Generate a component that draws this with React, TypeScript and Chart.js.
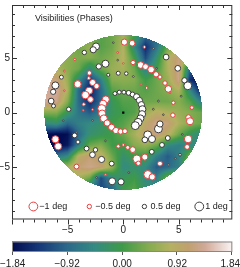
import React, { useEffect, useRef } from "react";
import { Chart, registerables } from "chart.js";

Chart.register(...registerables);

const TITLE = "Visibilities (Phases)";
const X_MIN = -10;
const X_MAX = 9.8;
const Y_MIN = -9.8;
const Y_MAX = 9.85;
const AXIS_TICKS = [-5, 0, 5];
const AXIS_TICK_LABELS = ["\u22125", "0", "5"];
const DISC_RADIUS = 7.1;

// uv points (units) and phase residuals (deg)
const U_POINTS = [
  0.1, 0.8, -0.9, -2.45, -2.7, -3.5, 1.9, 2.7, 3.85, -4.35,
  -1.6, -2.2, 0.0, 0.88, 1.56, 2.0, 2.5, 2.95, 3.3, 3.75,
  4.05, 4.9, 5.8, 5.5, 0.27, -0.45, -1.35, 0.9, 2.1, -3.05,
  -3.1, -4.1, -2.75, -2.4, -3.07, -6.1, -6.3, -6.48, -6.27, -3.4,
  -2.95, -3.55, -4.9, -5.56, -5.3, 4.5, 5.2, 6.17, 5.86, 6.0,
  4.46, 3.16, 2.7, -2.76,
  -1.57, -1.81, -1.93, -1.9, -1.75, -1.45, -1.05, -0.66, -0.24, 0.15,
  -0.75, -0.36, 0.06, 0.48, 0.84,
  1.2, 1.45, 1.63, 1.72, 1.69, 1.54, 1.33, 1.08,
  -6.1, -5.85, -5.4, -4.37, -4.07, -3.3, -2.5, -2.77, -1.95, -1.04,
  -4.2, -1.0, -0.2, -2.4, -0.45, 0.0, 0.4, 0.85, 1.22, 1.94,
  1.35, 3.3, 2.2, 2.6, 2.56, 2.2, 2.58, 1.94, 3.16, 3.3,
  4.0, 3.48, 5.83, 5.74, 5.1, 4.67, 4.07,
  -0.5, 3.0, -2.76, 4.2, -4.2, 3.6, -3.6, -1.6, 1.6, 5.3, -5.3, -1.6, 0.5, -0.5,
];
const V_POINTS = [
  6.45, 6.35, 6.4, 6.05, 5.75, 5.5, 6.0, 5.85, 5.08, 4.86,
  4.47, 4.22, 4.5, 4.58, 4.35, 4.2, 3.93, 3.5, 3.25, 2.7,
  2.16, 4.05, 2.45, 2.95, 3.57, 3.6, 3.45, 3.3, 2.25, 3.62,
  3.15, 2.6, 2.75, 2.42, 2.0, 2.48, 1.9, 1.05, 0.6, 1.6,
  1.2, 0.75, 0.3, 3.24, 3.8, 0.9, 1.5, 0.45, -0.45, -0.8,
  -0.24, 1.05, 0.3, 0.27,
  1.2, 0.81, 0.36, -0.09, -0.54, -0.96, -1.35, -1.65, -1.74, -1.71,
  1.74, 1.86, 1.86, 1.8, 1.65,
  1.44, 1.11, 0.72, 0.3, -0.15, -0.54, -0.9, -1.2,
  -2.45, -3.1, -0.75, -2.1, -2.7, -3.3, -3.42, -3.87, -4.3, -4.68,
  -4.95, -6.3, -6.35, -5.95, -3.1, -2.97, -3.2, -3.4, -4.25, -4.08,
  -4.65, -4.68, -5.68, -5.9, -3.6, -2.05, -2.43, -2.5, -1.5, -1.05,
  -2.34, -2.97, -2.43, -3.15, -3.87, -4.2, -4.8,
  4.8, 4.05, -0.72, 1.8, -1.8, -0.2, 0.2, -2.6, 2.6, -2.0, 2.0, -5.7, -5.5, 5.5,
];
const PHASE_RESID = [
  -0.7, -0.65, 0.15, 0.8, 0.7, 0.5, -0.3, 0.2, 0.65, -0.25,
  0.8, 0.6, -0.15, -0.5, -0.75, -0.65, -0.75, -0.6, -0.45, -0.5,
  -0.75, 0.65, 0.9, 0.6, 0.4, 0.45, 0.35, 0.2, -0.3, -0.5,
  -0.35, -0.8, -0.7, -0.6, -0.8, 0.8, 0.6, 0.65, 0.45, -0.85,
  -0.65, -0.35, 0.5, 0.45, -0.2, -0.4, 0.2, -0.4, -0.6, -0.8,
  -0.5, 0.2, 0.2, -0.2,
  -0.8, -0.8, -0.9, -0.8, -0.8, -0.7, -0.7, -0.7, -0.6, -0.55,
  0.45, 0.45, 0.45, 0.55, 0.55,
  0.7, 0.7, 0.7, 0.8, 0.8, 0.8, 0.9, 0.9,
  -0.8, -0.8, 0.15, 0.55, 0.45, 0.55, 0.5, 0.65, 0.7, 0.55,
  -0.55, 0.8, 0.7, 0.15, -0.4, -0.3, -0.45, -0.65, -0.9, -0.7,
  -0.5, -0.55, -0.9, -0.7, 0.55, 0.9, 0.8, 0.65, 0.9, 0.7,
  0.55, 0.55, -0.85, -0.55, 0.3, 0.2, 0.2,
  0.15, 0.15, 0.15, -0.15, 0.15, 0.15, -0.15, 0.15, -0.15, 0.15, -0.15, -0.2, 0.15, -0.15,
];

const CENTER_U = [0];
const CENTER_V = [0];

// Model phase field sampled on a 1-unit grid (rows: v = 7 .. -7, cols: u = -7 .. 7)
const FIELD_U = [-7, -6, -5, -4, -3, -2, -1, 0, 1, 2, 3, 4, 5, 6, 7];
const FIELD_V = [7, 6, 5, 4, 3, 2, 1, 0, -1, -2, -3, -4, -5, -6, -7];
const FIELD = [
  [0.6, 0.6, 0.6, 0.45, 0.3, 0.15, 0.3, 0.7, 0.0, -0.9, -0.9, -0.45, 0.0, 0.0, 0.0],
  [0.6, 0.6, 0.45, 0.3, 0.6, 0.15, 0.3, 0.8, -0.45, -1.5, -0.75, 0.3, 0.6, 0.6, 0.6],
  [0.6, 0.6, 0.5, 0.4, 0.45, 0.3, 0.45, 0.85, 0.0, -1.2, -0.3, 0.8, 1.2, 0.6, 0.0],
  [0.9, 0.75, 0.5, 0.3, -0.45, 0.3, 0.6, 0.7, 0.3, -0.6, 0.0, 0.75, 1.3, -0.9, -1.5],
  [1.3, 1.2, 0.6, -0.45, -1.35, -0.6, 0.45, 0.5, 0.45, 0.0, 0.3, 0.6, 1.3, -1.5, -1.9],
  [1.4, 1.4, 0.75, -0.9, -1.6, -0.9, 0.15, 0.3, 0.3, 0.15, 0.3, 0.45, 0.75, -0.45, -1.6],
  [1.4, 1.3, 0.45, -0.9, -1.5, -0.9, -0.15, 0.15, 0.15, 0.3, 0.3, 0.3, 0.45, 0.15, -0.6],
  [0.45, 0.45, -0.15, -0.75, -1.05, -0.6, -0.15, 0.0, 0.15, 0.6, 0.9, 0.75, 0.6, 0.45, 0.3],
  [-0.45, -0.3, -0.9, -0.6, -0.45, -0.3, 0.0, 0.15, 0.45, 1.0, 1.3, 1.2, 0.75, 0.45, 0.3],
  [-1.8, -1.9, -1.8, -0.9, -0.3, -0.15, 0.0, 0.3, 0.7, 1.1, 1.2, 0.9, 0.3, -0.15, -0.45],
  [-1.9, -1.9, -1.7, -0.6, 0.3, 0.45, 0.0, 0.0, 0.45, 0.6, 0.3, -0.45, -0.6, -0.45, -0.45],
  [-0.75, -0.75, -0.45, 0.9, 1.15, 0.95, 0.3, -0.3, 0.0, 0.0, -0.6, -1.05, -0.6, 0.45, 0.45],
  [0.7, 0.7, 0.7, 1.15, 1.3, 1.15, 0.55, -0.45, -0.3, -0.45, -1.05, -0.9, -0.6, 0.9, 0.9],
  [0.3, 0.3, 0.3, 0.7, 0.3, -1.2, -0.45, -0.15, 0.0, -0.45, -0.6, 0.45, 0.75, 0.75, 0.75],
  [0.0, 0.0, 0.0, 0.0, -0.75, -1.2, -0.9, 0.0, 0.15, -0.3, -0.45, 0.3, 0.6, 0.6, 0.6],
];

const CBAR_MIN = -1.84;
const CBAR_MAX = 1.84;
const CBAR_TICKS = [-1.84, -0.92, 0, 0.92, 1.84];
const CBAR_LABELS = ["\u22121.84", "\u22120.92", "0.00", "0.92", "1.84"];

const LEGEND_VALUES = [-1, -0.5, 0.5, 1];
const LEGEND_LABELS = ["\u22121 deg", "\u22120.5 deg", "0.5 deg", "1 deg"];

const CMAP_STOPS: [number, number[]][] = [
  [0.0, [2, 12, 80]],
  [0.125, [22, 56, 120]],
  [0.25, [44, 104, 138]],
  [0.375, [52, 138, 130]],
  [0.5, [62, 154, 72]],
  [0.625, [135, 172, 80]],
  [0.72, [180, 177, 98]],
  [0.8, [192, 160, 110]],
  [0.875, [208, 168, 150]],
  [1.0, [250, 244, 244]],
];

const RED = "rgb(232,64,64)";
const DARK = "rgb(60,60,60)";
const FONT = "'Liberation Sans', Arial, Helvetica, sans-serif";

function cmap(t: number): number[] {
  const tt = Math.max(0, Math.min(1, t));
  for (let i = 1; i < CMAP_STOPS.length; i++) {
    const [t1, c1] = CMAP_STOPS[i];
    const [t0, c0] = CMAP_STOPS[i - 1];
    if (tt <= t1) {
      const f = (tt - t0) / (t1 - t0);
      return [0, 1, 2].map((k) => Math.round(c0[k] + (c1[k] - c0[k]) * f));
    }
  }
  return CMAP_STOPS[CMAP_STOPS.length - 1][1];
}

function valueColor(v: number): number[] {
  return cmap((v - CBAR_MIN) / (CBAR_MAX - CBAR_MIN));
}

function sampleField(u: number, v: number): number {
  const nu = FIELD_U.length;
  const nv = FIELD_V.length;
  let fi = (u - FIELD_U[0]) / (FIELD_U[1] - FIELD_U[0]);
  let fj = (v - FIELD_V[0]) / (FIELD_V[1] - FIELD_V[0]);
  fi = Math.max(0, Math.min(nu - 1, fi));
  fj = Math.max(0, Math.min(nv - 1, fj));
  const i0 = Math.floor(fi);
  const j0 = Math.floor(fj);
  const i1 = Math.min(nu - 1, i0 + 1);
  const j1 = Math.min(nv - 1, j0 + 1);
  const tx = fi - i0;
  const ty = fj - j0;
  const a = FIELD[j0][i0] * (1 - tx) + FIELD[j0][i1] * tx;
  const b = FIELD[j1][i0] * (1 - tx) + FIELD[j1][i1] * tx;
  return a * (1 - ty) + b * ty;
}

function markerRadius(p: number): number {
  return Math.max(0.8, 4.4 * Math.abs(p));
}

const fieldPlugin = {
  id: "phaseField",
  beforeDatasetsDraw(chart: any) {
    const { ctx, scales } = chart;
    const xs = scales.x;
    const ys = scales.y;
    const left = Math.floor(xs.getPixelForValue(-DISC_RADIUS)) - 1;
    const right = Math.ceil(xs.getPixelForValue(DISC_RADIUS)) + 1;
    const top = Math.floor(ys.getPixelForValue(DISC_RADIUS)) - 1;
    const bottom = Math.ceil(ys.getPixelForValue(-DISC_RADIUS)) + 1;
    const w = right - left;
    const h = bottom - top;
    const off = document.createElement("canvas");
    off.width = w;
    off.height = h;
    const octx = off.getContext("2d")!;
    const img = octx.createImageData(w, h);
    for (let py = 0; py < h; py++) {
      for (let px = 0; px < w; px++) {
        const u = xs.getValueForPixel(left + px + 0.5);
        const v = ys.getValueForPixel(top + py + 0.5);
        if (u * u + v * v > DISC_RADIUS * DISC_RADIUS) continue;
        const c = valueColor(sampleField(u, v));
        const k = (py * w + px) * 4;
        img.data[k] = c[0];
        img.data[k + 1] = c[1];
        img.data[k + 2] = c[2];
        img.data[k + 3] = 255;
      }
    }
    octx.putImageData(img, 0, 0);
    ctx.save();
    ctx.drawImage(off, left, top);
    ctx.restore();
  },
};

const decorPlugin = {
  id: "decor",
  afterDraw(chart: any) {
    const { ctx, chartArea, scales } = chart;
    const xs = scales.x;
    const ys = scales.y;
    const L = chartArea.left;
    const R = chartArea.right;
    const T = chartArea.top;
    const B = chartArea.bottom;
    ctx.save();
    // frame
    ctx.strokeStyle = "#333";
    ctx.lineWidth = 1;
    ctx.strokeRect(L + 0.5, T + 0.5, R - L - 1, B - T - 1);
    // ticks
    ctx.beginPath();
    for (let t = Math.ceil(X_MIN); t <= Math.floor(X_MAX); t++) {
      const px = Math.round(xs.getPixelForValue(t)) + 0.5;
      const len = t % 5 === 0 ? 5 : 3;
      ctx.moveTo(px, B);
      ctx.lineTo(px, B + len);
      ctx.moveTo(px, T);
      ctx.lineTo(px, T + len);
    }
    for (let t = Math.ceil(Y_MIN); t <= Math.floor(Y_MAX); t++) {
      const py = Math.round(ys.getPixelForValue(t)) + 0.5;
      const len = t % 5 === 0 ? 5 : 3;
      ctx.moveTo(L, py);
      ctx.lineTo(L + len, py);
      ctx.moveTo(R, py);
      ctx.lineTo(R - len, py);
    }
    ctx.stroke();
    // tick labels
    ctx.fillStyle = "#222";
    ctx.font = `10px ${FONT}`;
    ctx.textBaseline = "middle";
    ctx.textAlign = "center";
    AXIS_TICKS.forEach((t, i) => {
      ctx.fillText(AXIS_TICK_LABELS[i], xs.getPixelForValue(t), B + 11);
    });
    ctx.textAlign = "right";
    AXIS_TICKS.forEach((t, i) => {
      ctx.fillText(AXIS_TICK_LABELS[i], L - 2, ys.getPixelForValue(t));
    });
    // title
    ctx.textAlign = "left";
    ctx.font = `9px ${FONT}`;
    ctx.fillText(TITLE, L + 23, T + 14);
    // legend
    const legX = [0.097, 0.351, 0.601, 0.85];
    const legY = B - 13;
    LEGEND_VALUES.forEach((val, i) => {
      const cx = L + legX[i] * (R - L);
      ctx.beginPath();
      ctx.arc(cx, legY, markerRadius(val), 0, Math.PI * 2);
      ctx.fillStyle = "#fff";
      ctx.fill();
      ctx.strokeStyle = val < 0 ? RED : DARK;
      ctx.lineWidth = 1;
      ctx.stroke();
      ctx.fillStyle = "#222";
      ctx.font = `9px ${FONT}`;
      ctx.textAlign = "left";
      ctx.fillText(LEGEND_LABELS[i], cx + 6, legY + 0.5);
    });
    // colorbar
    const cbTop = B + 22;
    const cbH = 10.5;
    for (let px = Math.floor(L); px < Math.ceil(R); px++) {
      const t = (px + 0.5 - L) / (R - L);
      const c = cmap(t);
      ctx.fillStyle = `rgb(${c[0]},${c[1]},${c[2]})`;
      ctx.fillRect(px, cbTop, 1, cbH);
    }
    ctx.strokeStyle = "#888";
    ctx.lineWidth = 1;
    ctx.strokeRect(L + 0.5, cbTop + 0.5, R - L - 1, cbH - 1);
    ctx.beginPath();
    CBAR_TICKS.forEach((val) => {
      const px = Math.round(L + ((val - CBAR_MIN) / (CBAR_MAX - CBAR_MIN)) * (R - L - 1)) + 0.5;
      ctx.moveTo(px, cbTop + cbH);
      ctx.lineTo(px, cbTop + cbH + 3);
    });
    ctx.strokeStyle = "#555";
    ctx.stroke();
    ctx.fillStyle = "#222";
    ctx.font = `10px ${FONT}`;
    ctx.textAlign = "center";
    CBAR_TICKS.forEach((val, i) => {
      let px = L + ((val - CBAR_MIN) / (CBAR_MAX - CBAR_MIN)) * (R - L);
      const w = ctx.measureText(CBAR_LABELS[i]).width;
      px = Math.max(w / 2, Math.min(chart.width - w / 2, px));
      ctx.fillText(CBAR_LABELS[i], px, cbTop + cbH + 12);
    });
    ctx.restore();
  },
};

export default function App() {
  const ref = useRef<HTMLCanvasElement | null>(null);
  useEffect(() => {
    document.body.style.margin = "0";
    const canvas = ref.current!;
    const chart = new Chart(canvas, {
      type: "scatter",
      data: {
        datasets: [
          {
            data: U_POINTS.map((u, i) => ({ x: u, y: V_POINTS[i] })),
            pointRadius: (c: any) => markerRadius(PHASE_RESID[c.dataIndex] ?? 0),
            pointBackgroundColor: "#ffffff",
            pointBorderColor: (c: any) => ((PHASE_RESID[c.dataIndex] ?? 0) < 0 ? RED : DARK),
            pointBorderWidth: 1,
            showLine: false,
          } as any,
          {
            data: CENTER_U.map((u, i) => ({ x: u, y: CENTER_V[i] })),
            pointStyle: "rect",
            pointRadius: 1.6,
            pointBackgroundColor: "#000",
            pointBorderColor: "#000",
            pointBorderWidth: 0,
          } as any,
        ],
      },
      options: {
        responsive: false,
        animation: false,
        devicePixelRatio: 1,
        layout: { padding: { left: 12, right: 7.7, top: 0, bottom: 47.5 } },
        scales: {
          x: { type: "linear", min: X_MIN, max: X_MAX, display: false },
          y: { type: "linear", min: Y_MIN, max: Y_MAX, display: false },
        },
        plugins: { legend: { display: false }, tooltip: { enabled: false } },
        events: [],
      },
      plugins: [fieldPlugin, decorPlugin],
    } as any);
    return () => chart.destroy();
  }, []);
  return (
    <div style={{ width: 240, height: 267, background: "#fff" }}>
      <canvas ref={ref} width={240} height={267} style={{ display: "block" }} />
    </div>
  );
}
